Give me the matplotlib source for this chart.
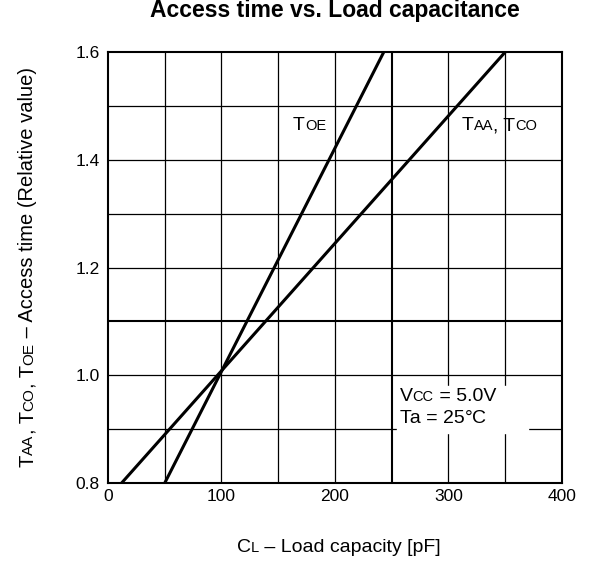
import matplotlib
matplotlib.use("Agg")
import matplotlib.pyplot as plt

plt.rcParams['font.family'] = ['Liberation Sans', 'DejaVu Sans']

# data
toe_cl = [50, 243]
toe_t = [0.80, 1.60]
taa_cl = [12, 350]
taa_t = [0.80, 1.60]

x_ticks = [0, 100, 200, 300, 400]
y_ticks = [0.8, 1.0, 1.2, 1.4, 1.6]

fig = plt.figure(figsize=(5.94, 5.61), dpi=100)
renderer = fig.canvas.get_renderer()


def mixed_text(ax, xy, parts, xycoords='data', rotation=0, center=False):
    # parts : liste de (texte, taille) poses bout a bout sur la meme ligne de base
    widths = []
    for s, size in parts:
        t = fig.text(0, 0, s, fontsize=size)
        widths.append(t.get_window_extent(renderer).width * 72 / fig.dpi)
        t.remove()
    pos = -sum(widths) / 2 if center else 0
    for (s, size), w in zip(parts, widths):
        off = (pos, 0) if rotation == 0 else (0, pos)
        ax.annotate(s, xy=xy, xycoords=xycoords, xytext=off, textcoords='offset points',
                    fontsize=size, rotation=rotation, rotation_mode='anchor',
                    ha='left', va='baseline', annotation_clip=False)
        pos += w


ax = fig.add_axes([0.1818, 0.139, 0.7643, 0.7683])

# grille
for x in range(50, 400, 50):
    ax.axvline(x, color='black', lw=1.5 if x == 250 else 0.9, zorder=1)
for y in [0.9, 1.0, 1.1, 1.2, 1.3, 1.4, 1.5]:
    ax.axhline(y, color='black', lw=1.5 if abs(y - 1.1) < 1e-6 else 0.9, zorder=1)

ax.plot(toe_cl, toe_t, color='black', lw=2.2, zorder=3)
ax.plot(taa_cl, taa_t, color='black', lw=2.2, zorder=3)

ax.set_xlim(0, 400)
ax.set_ylim(0.8, 1.6)
ax.set_xticks(x_ticks)
ax.set_yticks(y_ticks)
ax.set_yticklabels(['%.1f' % v for v in y_ticks])
ax.tick_params(length=0, labelsize=12.5)
ax.tick_params(axis='y', pad=6)
ax.tick_params(axis='x', pad=4)
for sp in ax.spines.values():
    sp.set_linewidth(1.5)

# boite des conditions
ax.fill_between([255, 370], 0.893, 0.981, color='white', zorder=2)
mixed_text(ax, (257, 0.952), [('V', 14), ('CC', 10.5), (' = 5.0V', 14)])
mixed_text(ax, (257, 0.911), [('Ta = 25', 14), ('\u00b0', 14), ('C', 14)])

mixed_text(ax, (163, 1.455), [('T', 14), ('OE', 10.5)])
mixed_text(ax, (312, 1.455), [('T', 14), ('AA', 10.5), (', T', 14), ('CO', 10.5)])

fig.text(0.564, 0.970, 'Access time vs. Load capacitance', fontsize=16.5, fontweight='bold',
         ha='center', va='baseline')

mixed_text(ax, (0.570, 0.016), [('C', 14), ('L', 10.5), (' \u2013 Load capacity [pF]', 14)],
           xycoords='figure fraction', center=True)
mixed_text(ax, (0.0556, 0.524), [('T', 14.5), ('AA', 11), (', T', 14.5), ('CO', 11), (', T', 14.5), ('OE', 11),
                                 (' \u2013 Access time (Relative value)', 14.5)],
           xycoords='figure fraction', rotation=90, center=True)

plt.savefig('out.png', dpi=100)
